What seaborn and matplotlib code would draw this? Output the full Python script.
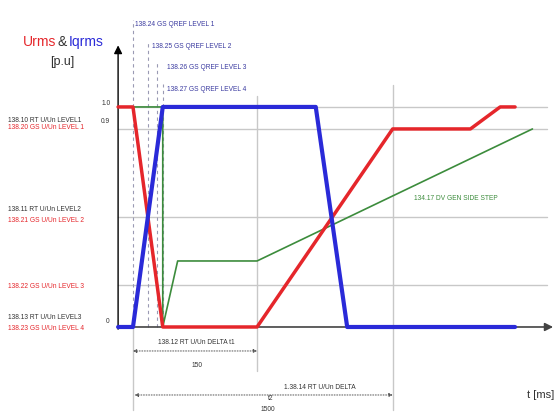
import matplotlib
matplotlib.use("Agg")
import matplotlib.pyplot as plt
import pandas as pd
import seaborn as sns

# Schematic time axis (ms) and per-unit values of the three traces
red_t = [-18, 0, 36, 150, 314, 408, 444, 462]
red_v = [1.0, 1.0, 0.0, 0.0, 0.9, 0.9, 1.0, 1.0]
blue_t = [-18, 0, 36, 221, 259, 462]
blue_v = [0.0, 0.0, 1.0, 1.0, 0.0, 0.0]
green_t = [-18, 36, 36, 54, 150, 483]
green_v = [1.0, 1.0, 0.0, 0.3, 0.3, 0.9]

# Voltage levels (p.u.) marked by horizontal reference lines
level_values = [1.0, 0.9, 0.5, 0.19]
# Q reference instants (ms)
qref_t = [0, 18, 29, 36]
qref_labels = ["138.24 GS QREF LEVEL 1", "138.25 GS QREF LEVEL 2",
               "138.26 GS QREF LEVEL 3", "138.27 GS QREF LEVEL 4"]
# Time marks for the delta dimensions (ms)
delta_t1 = 150
delta_t2 = 314
delta_t1_text = "150"
delta_t2_text = "1500"

RED = "#e5262b"
BLUE = "#2a2ad8"
GREEN = "#3c8c3c"
GRID = "#c8c8c8"
LABEL_DARK = "#333333"
LABEL_BLUE = "#3a3aa0"

sns.set_style("white")
plt.rcParams["font.family"] = ["Liberation Sans", "DejaVu Sans"]

fig = plt.figure(figsize=(5.57, 4.16), dpi=100)
ax = fig.add_axes([0, 0, 1, 1])
ax.set_xlim(-160.8, 512.7)
ax.set_ylim(-0.4045, 1.486)
ax.axis("off")

frames = []
for name, t, v in [("step", green_t, green_v), ("Urms", red_t, red_v),
                   ("Iqrms", blue_t, blue_v)]:
    frames.append(pd.DataFrame({"t": t, "v": v, "series": name}))
df = pd.concat(frames, ignore_index=True)

# Reference grid
for lv in level_values:
    ax.plot([-18, 501], [lv, lv], color=GRID, lw=1.0, zorder=1)
ax.plot([delta_t1, delta_t1], [1.05, -0.2], color=GRID, lw=1.0, zorder=1)
ax.plot([delta_t2, delta_t2], [1.1, -0.377], color=GRID, lw=1.0, zorder=1)
ax.plot([0, 0], [0, -0.377], color=GRID, lw=1.0, zorder=1)

# Q reference markers
tops = [1.395, 1.295, 1.205, 1.105]
for qt, top in zip(qref_t, tops):
    ax.plot([qt, qt], [0, top], color="#9a9ab4", lw=0.8, ls=(0, (3, 3)), zorder=1)
for (x, y), lab in zip([(2, 1.375), (23, 1.275), (41, 1.18), (41, 1.08)], qref_labels):
    ax.text(x, y, lab, fontsize=4.8, color=LABEL_BLUE, ha="left", va="center")

sns.lineplot(data=df, x="t", y="v", hue="series", size="series",
             hue_order=["step", "Urms", "Iqrms"],
             palette={"step": GREEN, "Urms": RED, "Iqrms": BLUE},
             sizes={"step": 1.2, "Urms": 2.5, "Iqrms": 3.0},
             sort=False, estimator=None, legend=False, ax=ax, zorder=3)

# Axes with arrow heads
ax.annotate("", xy=(-18, 1.28), xytext=(-18, -0.01),
            arrowprops=dict(arrowstyle="-|>", color="black", lw=1.0,
                            mutation_scale=12, shrinkA=0, shrinkB=0), zorder=2)
ax.annotate("", xy=(508, 0), xytext=(-18, 0),
            arrowprops=dict(arrowstyle="-|>", color="#444444", lw=1.2,
                            mutation_scale=12, shrinkA=0, shrinkB=0), zorder=2)

# Axis titles
ax.text(-93, 1.295, "Urms", fontsize=10, color=RED, ha="right", va="center")
ax.text(-86, 1.295, "&", fontsize=10, color=LABEL_DARK, ha="center", va="center")
ax.text(-78, 1.295, "Iqrms", fontsize=10, color=BLUE, ha="left", va="center")
ax.text(-85, 1.205, "[p.u]", fontsize=9, color=LABEL_DARK, ha="center", va="center")
ax.text(476, -0.31, "t [ms]", fontsize=8, color=LABEL_DARK, ha="left", va="center")

# Tick values
ax.text(-33, 1.015, "1.0", fontsize=4.8, color=LABEL_DARK, ha="center", va="center")
ax.text(-33, 0.935, "0.9", fontsize=4.8, color=LABEL_DARK, ha="center", va="center")
ax.text(-31, 0.025, "0", fontsize=4.8, color=LABEL_DARK, ha="center", va="center")

# Level labels on the left
left_labels = [
    ("138.10 RT U/Un LEVEL1", 0.940, LABEL_DARK),
    ("138.20 GS U/Un LEVEL 1", 0.905, RED),
    ("138.11 RT U/Un LEVEL2", 0.532, LABEL_DARK),
    ("138.21 GS U/Un LEVEL 2", 0.482, RED),
    ("138.22 GS U/Un LEVEL 3", 0.182, RED),
    ("138.13 RT U/Un LEVEL3", 0.041, LABEL_DARK),
    ("138.23 GS U/Un LEVEL 4", -0.009, RED),
]
for txt, y, c in left_labels:
    ax.text(-151, y, txt, fontsize=4.8, color=c, ha="left", va="center")

ax.text(340, 0.582, "134.17 DV GEN SIDE STEP", fontsize=4.8, color=GREEN,
        ha="left", va="center")

# Delta dimensions
dim = dict(arrowstyle="<|-|>", color="#555555", lw=0.7, ls=":",
           mutation_scale=5, shrinkA=0, shrinkB=0)
ax.annotate("", xy=(delta_t1, -0.109), xytext=(0, -0.109), arrowprops=dim)
ax.text(delta_t1 / 2 + 2, -0.072, "138.12 RT U/Un DELTA t1", fontsize=4.8,
        color=LABEL_DARK, ha="center", va="center")
ax.text(delta_t1 / 2 + 2, -0.173, delta_t1_text, fontsize=4.8,
        color=LABEL_DARK, ha="center", va="center")
ax.annotate("", xy=(delta_t2, -0.309), xytext=(2, -0.309), arrowprops=dim)
ax.text(226, -0.277, "1.38.14 RT U/Un DELTA", fontsize=4.8,
        color=LABEL_DARK, ha="center", va="center")
ax.text(166, -0.323, "t2", fontsize=4.8, color=LABEL_DARK, ha="center", va="center")
ax.text(163, -0.373, delta_t2_text, fontsize=4.8, color=LABEL_DARK,
        ha="center", va="center")

fig.savefig("out.png", dpi=100)
